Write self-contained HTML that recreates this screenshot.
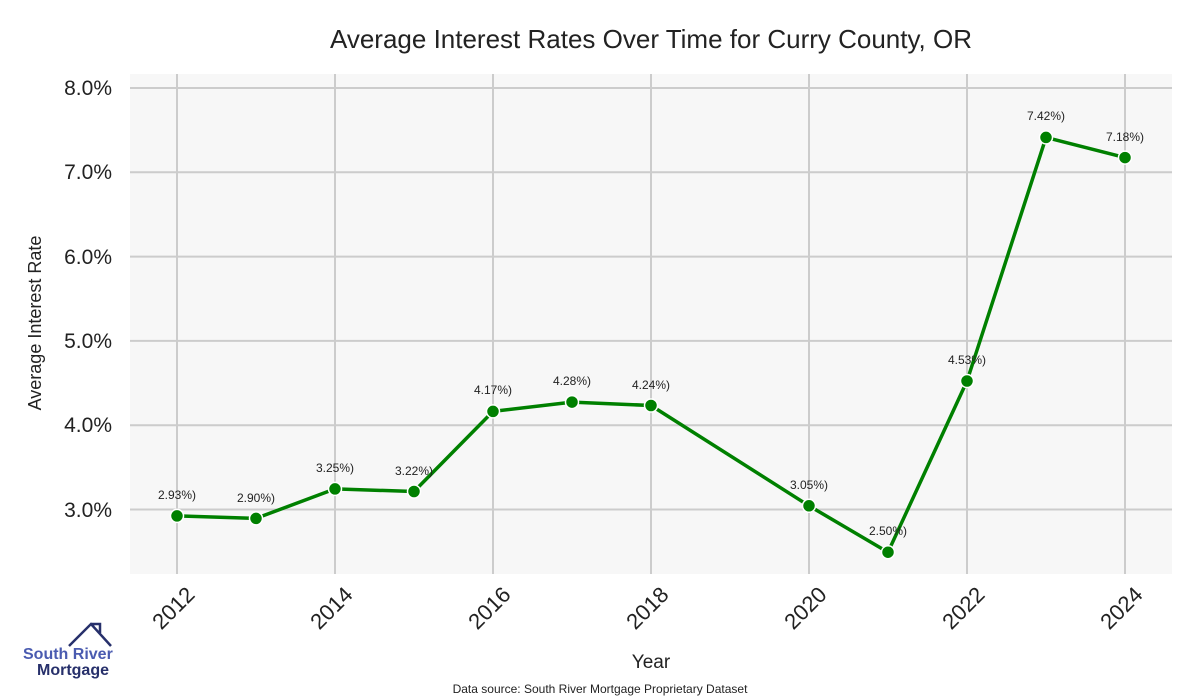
<!DOCTYPE html>
<html><head><meta charset="utf-8"><style>body{margin:0;background:#fff}svg{display:block}text{font-family:"Liberation Sans",sans-serif}</style></head><body>
<svg width="1200" height="700" viewBox="0 0 1200 700">
<rect x="130" y="74" width="1042" height="500" fill="#f7f7f7"/>
<g stroke="#cccccc" stroke-width="2">
<line x1="130" x2="1172" y1="88" y2="88"/><line x1="130" x2="1172" y1="172.3" y2="172.3"/><line x1="130" x2="1172" y1="256.6" y2="256.6"/><line x1="130" x2="1172" y1="340.9" y2="340.9"/><line x1="130" x2="1172" y1="425.2" y2="425.2"/><line x1="130" x2="1172" y1="509.5" y2="509.5"/>
<line x1="177" x2="177" y1="74" y2="574"/><line x1="335" x2="335" y1="74" y2="574"/><line x1="493" x2="493" y1="74" y2="574"/><line x1="651" x2="651" y1="74" y2="574"/><line x1="809" x2="809" y1="74" y2="574"/><line x1="967" x2="967" y1="74" y2="574"/><line x1="1125" x2="1125" y1="74" y2="574"/>
</g>
<g font-size="21" fill="#222" text-anchor="end">
<text x="112" y="95">8.0%</text><text x="112" y="179">7.0%</text><text x="112" y="264">6.0%</text><text x="112" y="348">5.0%</text><text x="112" y="432">4.0%</text><text x="112" y="517">3.0%</text>
</g>
<g font-size="22" fill="#222" text-anchor="end">
<text transform="translate(196,596) rotate(-45)">2012</text>
<text transform="translate(354,596) rotate(-45)">2014</text>
<text transform="translate(512,596) rotate(-45)">2016</text>
<text transform="translate(670,596) rotate(-45)">2018</text>
<text transform="translate(828,596) rotate(-45)">2020</text>
<text transform="translate(986,596) rotate(-45)">2022</text>
<text transform="translate(1144,596) rotate(-45)">2024</text>
</g>
<text x="651" y="48" font-size="26" fill="#222" text-anchor="middle">Average Interest Rates Over Time for Curry County, OR</text>
<text x="651" y="668" font-size="19" fill="#222" text-anchor="middle">Year</text>
<text transform="translate(41,323) rotate(-90)" font-size="18" fill="#222" text-anchor="middle">Average Interest Rate</text>
<text x="600" y="693" font-size="12" fill="#222" text-anchor="middle">Data source: South River Mortgage Proprietary Dataset</text>
<polyline fill="none" stroke="#008000" stroke-width="3.5" stroke-linejoin="round" points="177,515.9 256,518.4 335,488.9 414,491.5 493,411.4 572,402.1 651,405.5 809,505.8 888,552.2 967,381 1046,137.4 1125,157.6"/>
<g fill="#008000" stroke="#fff" stroke-width="1.5">
<circle cx="177" cy="515.9" r="6.5"/><circle cx="256" cy="518.4" r="6.5"/><circle cx="335" cy="488.9" r="6.5"/><circle cx="414" cy="491.5" r="6.5"/><circle cx="493" cy="411.4" r="6.5"/><circle cx="572" cy="402.1" r="6.5"/><circle cx="651" cy="405.5" r="6.5"/><circle cx="809" cy="505.8" r="6.5"/><circle cx="888" cy="552.2" r="6.5"/><circle cx="967" cy="381" r="6.5"/><circle cx="1046" cy="137.4" r="6.5"/><circle cx="1125" cy="157.6" r="6.5"/>
</g>
<g font-size="12" fill="#222" text-anchor="middle">
<text x="177" y="499">2.93%)</text><text x="256" y="502">2.90%)</text><text x="335" y="472">3.25%)</text><text x="414" y="475">3.22%)</text><text x="493" y="394">4.17%)</text><text x="572" y="385">4.28%)</text><text x="651" y="389">4.24%)</text><text x="809" y="489">3.05%)</text><text x="888" y="535">2.50%)</text><text x="967" y="364">4.53%)</text><text x="1046" y="120">7.42%)</text><text x="1125" y="141">7.18%)</text>
</g>
<g fill="none" stroke="#27306b" stroke-width="2.5">
<polyline points="69,646 91,624 111,646"/><polyline points="93,626 93,624 100,624 100,633"/>
</g>
<text x="23" y="659" font-size="16" font-weight="bold" fill="#4a5bb0">South River</text>
<text x="37" y="675" font-size="16" font-weight="bold" fill="#27306b">Mortgage</text>
</svg>
</body></html>
